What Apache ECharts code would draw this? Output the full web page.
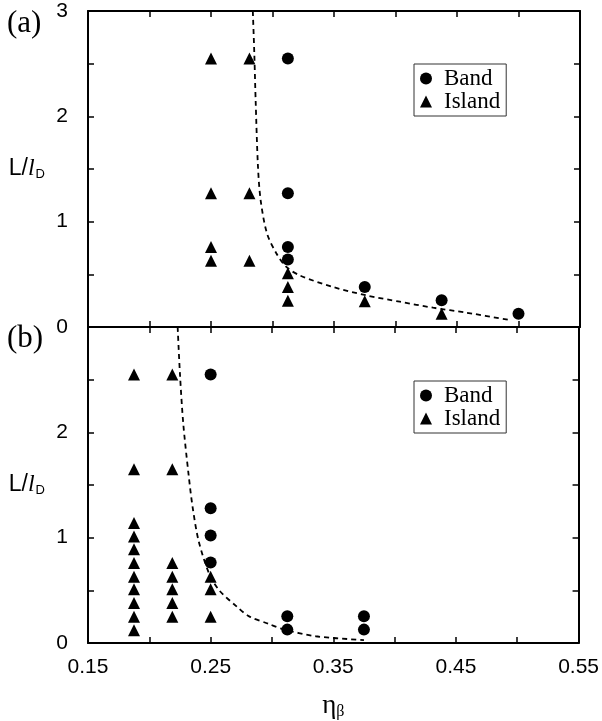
<!DOCTYPE html>
<html>
<head>
<meta charset="utf-8">
<script src="https://cdn.jsdelivr.net/npm/echarts@6/dist/echarts.min.js"></script>
<style>
html,body{margin:0;padding:0;background:#fff}
#main{width:602px;height:721px}
</style>
</head>
<body>
<div id="main"></div>
<script>
// panel (a)
var bandA = [[0.3125,2.55],[0.3125,1.27],[0.3125,0.76],[0.3125,0.64],[0.375,0.38],[0.4375,0.255],[0.5,0.125]];
var islandA = [[0.25,2.55],[0.25,1.27],[0.25,0.76],[0.25,0.63],[0.28125,2.55],[0.28125,1.27],[0.28125,0.63],
  [0.3125,0.51],[0.3125,0.38],[0.3125,0.25],[0.375,0.245],[0.4375,0.125]];
var curveA = [[0.2840,3.0],[0.2852,2.6],[0.2863,2.15],[0.2882,1.52],[0.2904,1.2],[0.2955,0.89],[0.3031,0.70],
  [0.3113,0.57],[0.3221,0.49],[0.3492,0.38],[0.3764,0.30],[0.4035,0.24],[0.4306,0.183],[0.4577,0.136],[0.493,0.066]];
// panel (b)
var bandB = [[0.25,2.55],[0.25,1.28],[0.25,1.02],[0.25,0.765],[0.3125,0.255],[0.3125,0.127],[0.375,0.255],[0.375,0.127]];
var islandB = [[0.1875,2.55],[0.1875,1.65],[0.1875,1.14],[0.1875,1.01],[0.1875,0.89],[0.1875,0.76],[0.1875,0.63],
  [0.1875,0.51],[0.1875,0.38],[0.1875,0.25],[0.1875,0.12],
  [0.21875,2.55],[0.21875,1.65],[0.21875,0.76],[0.21875,0.63],[0.21875,0.51],[0.21875,0.38],[0.21875,0.25],
  [0.25,0.63],[0.25,0.51],[0.25,0.25]];
var curveB = [[0.2231,3.0],[0.2250,2.55],[0.2277,2.08],[0.2320,1.6],[0.2353,1.29],[0.2402,0.97],[0.2489,0.655],
  [0.2570,0.50],[0.2719,0.34],[0.2814,0.253],[0.2977,0.18],[0.3085,0.133],[0.3357,0.064],[0.375,0.028]];

var xMin = 0.15, xMax = 0.55, xStep = 0.05;
var yMin = 0, yMax = 3, yStep = 0.5;

var myChart = echarts.init(document.getElementById('main'));

var line = {show:true, onZero:false, lineStyle:{color:'#000', width:2}};
var tick = {show:true, inside:true, length:6, lineStyle:{color:'#000', width:1.5}};
var sans = 'Liberation Sans';
var serif = 'Liberation Serif';

function xAx(grid, pos, labels){
  var a = {type:'value', gridIndex:grid, position:pos, min:xMin, max:xMax, interval:xStep,
    axisLine:line, axisTick:tick, splitLine:{show:false},
    axisLabel:{show:labels, color:'#000', fontFamily:sans, fontSize:21, margin:14,
      formatter:function(v){ var k = Math.round((v - xMin) / xStep); return k % 2 === 0 ? v.toFixed(2) : ''; }}};
  return a;
}
function yAx(grid, pos, labels, top){
  return {type:'value', gridIndex:grid, position:pos, min:yMin, max:yMax, interval:yStep,
    axisLine:line, axisTick:tick, splitLine:{show:false},
    name: labels ? '{a|L/}{i|l}{s|D}' : '', nameLocation:'middle', nameRotate:0, nameGap:43,
    nameTextStyle:{rich:{
      a:{fontFamily:sans, fontSize:23, color:'#000'},
      i:{fontFamily:serif, fontStyle:'italic', fontSize:24, color:'#000'},
      s:{fontFamily:sans, fontSize:13, color:'#000', verticalAlign:'bottom', padding:[11,0,0,1]}}},
    axisLabel:{show:labels, color:'#000', fontFamily:sans, fontSize:21, margin:20,
      formatter:function(v){ return (v % 1 === 0 && v <= top) ? String(v) : ''; }}};
}
function legendAt(top){
  return {orient:'vertical', left:414, top:top, data:['Band','Island'],
    borderColor:'#333', borderWidth:1, padding:[3,6,3,6], itemGap:0,
    itemWidth:12, itemHeight:12, selectedMode:false,
    textStyle:{fontFamily:serif, fontSize:23, color:'#000', padding:[0,0,0,7], lineHeight:22}};
}
function dots(name, sym, x, y, data){
  return {name:name, type:'scatter', xAxisIndex:x, yAxisIndex:y, symbol:sym, symbolSize:12,
    itemStyle:{color:'#000', opacity:1}, data:data, z:3};
}
function dashed(x, y, data){
  return {type:'line', xAxisIndex:x, yAxisIndex:y, data:data, showSymbol:false, smooth:0.3,
    lineStyle:{color:'#000', width:1.8, type:[5,4]}, z:2};
}

var option = {
  backgroundColor:'#fff',
  animation:false,
  grid:[
    {left:88, top:11, width:492, height:316},
    {left:88, top:327, width:492, height:317}
  ],
  xAxis:[xAx(0,'bottom',false), xAx(0,'top',false), xAx(1,'bottom',true), xAx(1,'top',false)],
  yAxis:[yAx(0,'left',true,3), yAx(0,'right',false,3), yAx(1,'left',true,2), yAx(1,'right',false,2)],
  legend:[legendAt(64), legendAt(381)],
  graphic:[
    {type:'text', left:7, top:8, style:{text:'(a)', font:'31px "Liberation Serif"', fill:'#000'}},
    {type:'text', left:7, top:323, style:{text:'(b)', font:'31px "Liberation Serif"', fill:'#000'}}
  ],
  series:[
    dots('Band','circle',0,0,bandA),
    dots('Island','triangle',0,0,islandA),
    dashed(0,0,curveA),
    dots('Band','circle',2,2,bandB),
    dots('Island','triangle',2,2,islandB),
    dashed(2,2,curveB)
  ]
};
// x axis name on the lower panel only
option.xAxis[2].name = '{e|η}{s|β}';
option.xAxis[2].nameLocation = 'middle';
option.xAxis[2].nameGap = 48;
option.xAxis[2].nameTextStyle = {rich:{
  e:{fontFamily:serif, fontSize:27, color:'#000'},
  s:{fontFamily:serif, fontSize:16, color:'#000', verticalAlign:'bottom', padding:[13,0,0,0]}}};
myChart.setOption(option);
</script>
</body>
</html>
